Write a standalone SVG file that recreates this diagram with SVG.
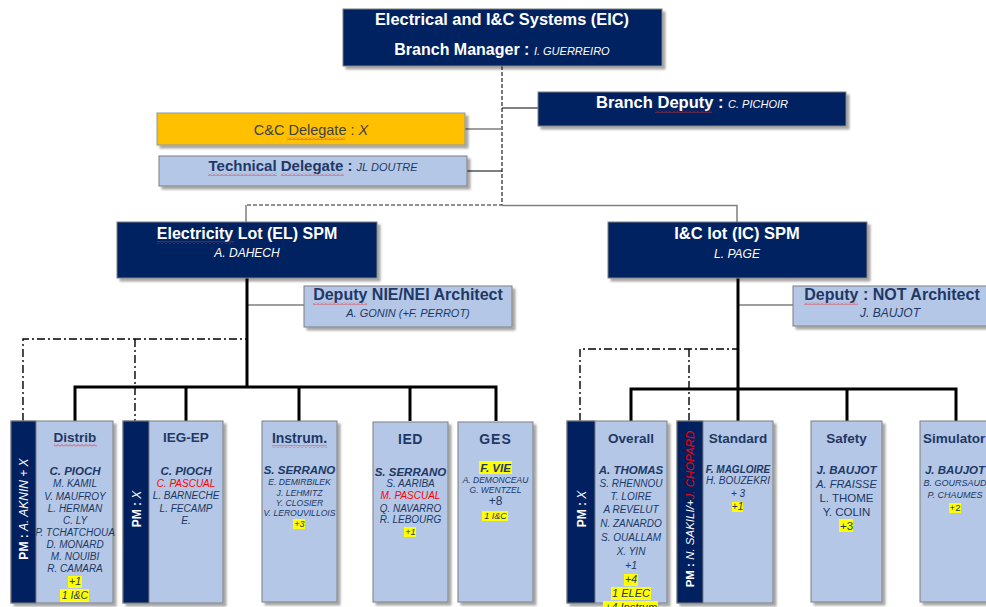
<svg xmlns="http://www.w3.org/2000/svg" width="986" height="607" viewBox="0 0 986 607">
<defs>
  <filter id="sh" x="-10%" y="-10%" width="130%" height="130%">
    <feDropShadow dx="3" dy="3" stdDeviation="1.2" flood-color="#000" flood-opacity="0.35"/>
  </filter>
  <pattern id="wave" width="4" height="3" patternUnits="userSpaceOnUse">
    <path d="M0 2.5 L2 0.5 L4 2.5" stroke="#E03030" stroke-width="0.8" fill="none"/>
  </pattern>
  <style>
    text { font-family: "Liberation Sans", Arial, sans-serif; }
    .navy { fill: #002060; stroke: #7F7F7F; stroke-width: 1; }
    .lb { fill: #B4C7E7; stroke: #7F7F7F; stroke-width: 1; }
    .org { fill: #FFC000; stroke: #8497B0; stroke-width: 1; }
    .hl { fill: #FFFF00; }
    .wv { fill: url(#wave); }
    .wt { fill: #FFFFFF; }
    .mid { text-anchor: middle; }
    .b { font-weight: bold; }
    .i { font-style: italic; }
    .ttl { font-weight: bold; fill: #1F3864; }
    .nm { font-style: italic; fill: #203864; }
    .up { fill: #203864; }
    .bi { font-weight: bold; }
    .red { fill: #FF0000; }
    .thick { stroke: #000; stroke-width: 3; fill: none; stroke-linejoin: miter; }
    .dd { stroke: #000; stroke-width: 1.4; fill: none; stroke-dasharray: 8 3 2 3; }
    .gl { stroke: #7F7F7F; stroke-width: 1.5; fill: none; }
    .bl { stroke: #000; stroke-width: 1; fill: none; }
    .dash { stroke: #222; stroke-width: 1.2; fill: none; stroke-dasharray: 4 2; }
  </style>
</defs>

<rect width="986" height="607" fill="#FFFFFF"/>

<!-- connectors -->
<g id="connectors">
  <path class="dash" d="M502 66 V205 H246"/>
  <path class="gl" d="M502 205.5 H737 V222 M246 205 V222"/>
  <path class="bl" d="M502 108 H538 M467 171 H502"/>
  <path class="gl" d="M465 129 H502 M247 305 H304 M738 305 H793"/>
  <path class="thick" d="M247 278 V387 M75 421 V387 H496 V421 M186 387 V421 M299 387 V421 M410 387 V421"/>
  <path class="dd" d="M23 421 V339 H247 M135 339 V421"/>
  <path class="thick" d="M738 278 V389 M631 421 V389 H956 V421 M738 389 V421 M847 389 V421"/>
  <path class="dd" d="M580 421 V349 H738 M689 349 V421"/>
</g>

<!-- top management -->
<g id="eic">
  <rect class="navy" x="343" y="9" width="319" height="57" filter="url(#sh)"/>
  <text class="wt b mid" x="502" y="25" font-size="16.4">Electrical and I&amp;C Systems (EIC)</text>
  <text class="wt mid" x="502" y="55"><tspan class="b" font-size="16">Branch Manager : </tspan><tspan class="i" font-size="11">I. GUERREIRO</tspan></text>
</g>

<g id="branch-deputy">
  <rect class="navy" x="538" y="92" width="308" height="34" filter="url(#sh)"/>
  <text class="wt mid" x="692" y="108"><tspan class="b" font-size="16.5">Branch Deputy : </tspan><tspan class="i" font-size="11">C. PICHOIR</tspan></text>
  <rect class="wv" x="655" y="110" width="57" height="3"/>
</g>

<g id="cc-delegate">
  <rect class="org" x="157" y="113" width="308" height="32" filter="url(#sh)"/>
  <text class="mid" x="311" y="135" font-size="14.5" fill="#404040">C&amp;C Delegate : <tspan class="i">X</tspan></text>
  <rect class="wv" x="287" y="137" width="58" height="3"/>
</g>

<g id="technical-delegate">
  <rect class="lb" x="159" y="156" width="308" height="30" filter="url(#sh)"/>
  <text class="mid" x="313" y="171" fill="#1F3864"><tspan class="b" font-size="15">Technical Delegate : </tspan><tspan class="i" font-size="11">JL DOUTRE</tspan></text>
  <rect class="wv" x="208" y="173" width="69" height="3"/>
  <rect class="wv" x="281" y="173" width="63" height="3"/>
</g>

<!-- lots -->
<g id="el-spm">
  <rect class="navy" x="117" y="222" width="260" height="56" filter="url(#sh)"/>
  <text class="wt b mid" x="247" y="239" font-size="16">Electricity Lot (EL) SPM</text>
  <rect class="wv" x="157" y="241" width="77" height="3"/>
  <text class="wt i mid" x="247" y="257" font-size="12">A. DAHECH</text>
</g>

<g id="ic-spm">
  <rect class="navy" x="608" y="222" width="259" height="56" filter="url(#sh)"/>
  <text class="wt b mid" x="737" y="239" font-size="16.5">I&amp;C lot (IC) SPM</text>
  <text class="wt i mid" x="737" y="258" font-size="12">L. PAGE</text>
</g>

<g id="el-deputy">
  <rect class="lb" x="304" y="286" width="208" height="41" filter="url(#sh)"/>
  <text class="b mid" x="408" y="300" font-size="16" fill="#1F3864">Deputy NIE/NEI Architect</text>
  <rect class="wv" x="313" y="302" width="54" height="3"/>
  <text class="i mid" x="408" y="317" font-size="11" fill="#203864">A. GONIN (+F. PERROT)</text>
</g>

<g id="ic-deputy">
  <rect class="lb" x="793" y="286" width="210" height="40" filter="url(#sh)"/>
  <text class="b mid" x="892" y="300" font-size="16" fill="#1F3864">Deputy : NOT Architect</text>
  <rect class="wv" x="804" y="302" width="54" height="3"/>
  <text class="i mid" x="890" y="317" font-size="12" fill="#203864">J. BAUJOT</text>
</g>

<!-- EL teams -->
<g id="distrib" font-size="10" text-anchor="middle">
  <rect class="lb" x="11" y="421" width="102" height="182" filter="url(#sh)"/>
  <text class="ttl" x="75" y="442" font-size="13.5">Distrib</text>
  <rect class="wv" x="54" y="444" width="43" height="3"/>
  <text class="nm bi" x="75" y="475" font-size="11.5">C. PIOCH</text>
  <text class="nm" x="75" y="487">M. KAMIL</text>
  <text class="nm" x="75" y="499.5">V. MAUFROY</text>
  <text class="nm" x="75" y="511.5">L. HERMAN</text>
  <text class="nm" x="75" y="524">C. LY</text>
  <text class="nm" x="75" y="535.5">P. TCHATCHOUA</text>
  <text class="nm" x="75" y="547.5">D. MONARD</text>
  <text class="nm" x="75" y="560">M. NOUIBI</text>
  <text class="nm" x="75" y="571.5">R. CAMARA</text>
  <rect class="hl" x="68" y="576" width="14" height="12"/>
  <text class="nm" x="75" y="585" font-size="10.5">+1</text>
  <rect class="hl" x="60" y="589" width="29" height="13"/>
  <text class="nm" x="75" y="598.5" font-size="10.5">1 I&amp;C</text>
  <rect class="navy" x="11" y="421" width="25" height="182"/>
  <text class="wt" transform="translate(28 509) rotate(-90)" font-size="12"><tspan class="b">PM : </tspan><tspan class="i">A. AKNIN + X</tspan></text>
</g>

<g id="ieg-ep" font-size="10" text-anchor="middle">
  <rect class="lb" x="123" y="421" width="100" height="182" filter="url(#sh)"/>
  <text class="ttl" x="186" y="442" font-size="13.5">IEG-EP</text>
  <text class="nm bi" x="186" y="475" font-size="11.5">C. PIOCH</text>
  <text class="nm red" x="186" y="487">C. PASCUAL</text>
  <text class="nm" x="186" y="499">L. BARNECHE</text>
  <text class="nm" x="186" y="511.5">L. FECAMP</text>
  <text class="nm" x="186" y="524">E.</text>
  <rect class="navy" x="123" y="421" width="26" height="182"/>
  <text class="wt" transform="translate(140.5 509) rotate(-90)" font-size="12"><tspan class="b">PM : </tspan><tspan class="i">X</tspan></text>
</g>

<g id="instrum" font-size="8.6" text-anchor="middle">
  <rect class="lb" x="262" y="421" width="75" height="181" filter="url(#sh)"/>
  <text class="ttl" x="299.5" y="443" font-size="14">Instrum.</text>
  <rect class="wv" x="272" y="445" width="55" height="3"/>
  <text class="nm bi" x="299.5" y="474" font-size="11.5">S. SERRANO</text>
  <text class="nm" x="299.5" y="485">E. DEMIRBILEK</text>
  <text class="nm" x="299.5" y="496">J. LEHMITZ</text>
  <text class="nm" x="299.5" y="506">Y. CLOSIER</text>
  <text class="nm" x="299.5" y="516">V. LEROUVILLOIS</text>
  <rect class="hl" x="293" y="519" width="12" height="10"/>
  <text class="nm" x="299.5" y="527" font-size="9">+3</text>
</g>

<g id="ied" font-size="10" text-anchor="middle">
  <rect class="lb" x="373" y="422" width="75" height="180" filter="url(#sh)"/>
  <text class="ttl" x="410.5" y="443.5" font-size="14" letter-spacing="0.5">IED</text>
  <text class="nm bi" x="410.5" y="476" font-size="11.5">S. SERRANO</text>
  <text class="nm" x="410.5" y="487">S. AARIBA</text>
  <text class="nm red" x="410.5" y="499">M. PASCUAL</text>
  <text class="nm" x="410.5" y="512">Q. NAVARRO</text>
  <text class="nm" x="410.5" y="523">R. LEBOURG</text>
  <rect class="hl" x="404" y="527" width="12" height="10"/>
  <text class="nm" x="410.5" y="535" font-size="9">+1</text>
</g>

<g id="ges" font-size="8.5" text-anchor="middle">
  <rect class="lb" x="458" y="422" width="75" height="180" filter="url(#sh)"/>
  <text class="ttl" x="495.5" y="443.5" font-size="14" letter-spacing="1">GES</text>
  <rect class="hl" x="479" y="461" width="33" height="13"/>
  <text class="nm bi" x="495.5" y="472" font-size="11.5">F. VIE</text>
  <text class="nm" x="495.5" y="483">A. DEMONCEAU</text>
  <text class="nm" x="495.5" y="493">G. WENTZEL</text>
  <text class="up" x="495.5" y="505" font-size="12">+8</text>
  <rect class="hl" x="482" y="511" width="26" height="10"/>
  <text class="nm" x="495.5" y="519" font-size="9">1 I&amp;C</text>
</g>

<!-- IC teams -->
<g id="overall" font-size="10" text-anchor="middle">
  <rect class="lb" x="567" y="421" width="100" height="182" filter="url(#sh)"/>
  <text class="ttl" x="631" y="442.5" font-size="13.5">Overall</text>
  <text class="nm bi" x="631" y="474" font-size="11.5">A. THOMAS</text>
  <text class="nm" x="631" y="487">S. RHENNOU</text>
  <text class="nm" x="631" y="500">T. LOIRE</text>
  <text class="nm" x="631" y="513">A REVELUT</text>
  <text class="nm" x="631" y="527">N. ZANARDO</text>
  <text class="nm" x="631" y="541">S. OUALLAM</text>
  <text class="nm" x="631" y="555">X. YIN</text>
  <text class="nm" x="631" y="568.5" font-size="10.5">+1</text>
  <rect class="hl" x="624" y="574" width="14" height="12"/>
  <text class="nm" x="631" y="583" font-size="10.5">+4</text>
  <rect class="hl" x="611" y="587" width="40" height="13"/>
  <text class="nm" x="631" y="597" font-size="11">1 ELEC</text>
  <rect class="hl" x="603" y="601" width="55" height="12"/>
  <text class="nm" x="631" y="611" font-size="11">+4 Instrum</text>
  <rect class="navy" x="567" y="421" width="28" height="182"/>
  <text class="wt" transform="translate(585.5 509) rotate(-90)" font-size="12"><tspan class="b">PM : </tspan><tspan class="i">X</tspan></text>
</g>

<g id="standard" font-size="10" text-anchor="middle">
  <rect class="lb" x="677" y="421" width="96" height="182" filter="url(#sh)"/>
  <text class="ttl" x="738" y="443" font-size="13.5">Standard</text>
  <text class="nm bi" x="738" y="473">F. MAGLOIRE</text>
  <text class="nm" x="738" y="483.5">H. BOUZEKRI</text>
  <text class="nm" x="738" y="497">+ 3</text>
  <rect class="hl" x="732" y="502" width="11" height="10"/>
  <text class="nm" x="737.5" y="509.5">+1</text>
  <rect class="navy" x="677" y="421" width="26" height="182"/>
  <text class="wt" transform="translate(694 509) rotate(-90)" font-size="11.5"><tspan class="b">PM : </tspan><tspan class="i">N. SAKILI/+</tspan><tspan class="i red">J. CHOPARD</tspan></text>
</g>

<g id="safety" font-size="11.5" text-anchor="middle">
  <rect class="lb" x="811" y="421" width="71" height="181" filter="url(#sh)"/>
  <text class="ttl" x="846.5" y="443" font-size="13.5">Safety</text>
  <text class="nm bi" x="846.5" y="474">J. BAUJOT</text>
  <text class="nm" x="846.5" y="488" font-size="11">A. FRAISSE</text>
  <text class="up" x="846.5" y="502">L. THOME</text>
  <text class="up" x="846.5" y="516">Y. COLIN</text>
  <rect class="hl" x="839" y="519" width="14" height="13"/>
  <text class="up" x="846.5" y="529.5">+3</text>
</g>

<g id="simulator" font-size="9" text-anchor="middle">
  <rect class="lb" x="920" y="421" width="80" height="181" filter="url(#sh)"/>
  <text class="ttl" x="923" y="443" font-size="13.5" text-anchor="start">Simulator</text>
  <text class="nm bi" x="955" y="474" font-size="11.5">J. BAUJOT</text>
  <text class="nm" x="955" y="486">B. GOURSAUD</text>
  <text class="nm" x="955" y="498">P. CHAUMES</text>
  <rect class="hl" x="949" y="503" width="12" height="10"/>
  <text class="up" x="955" y="511" font-size="9.5">+2</text>
</g>
</svg>
